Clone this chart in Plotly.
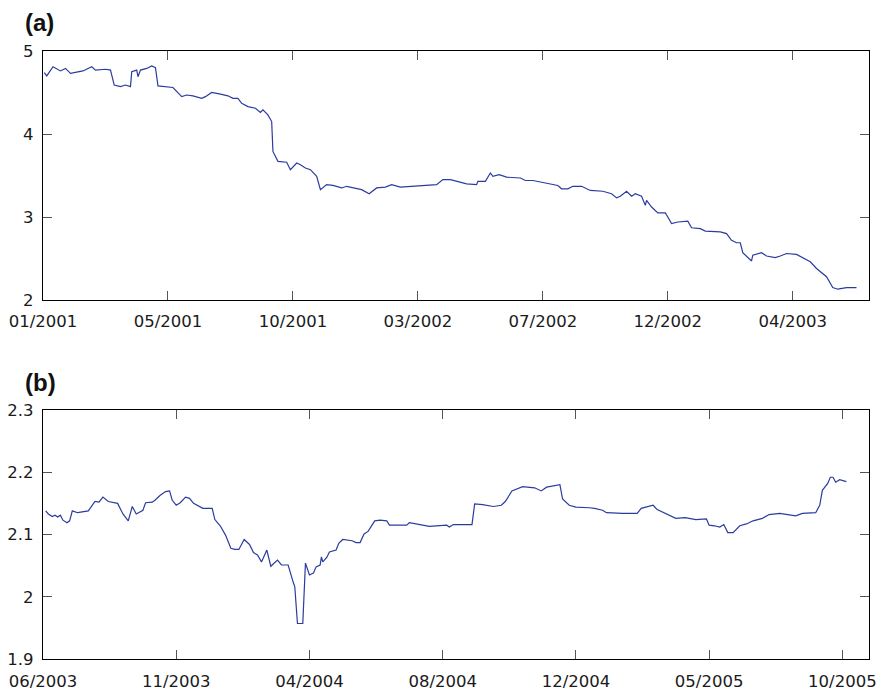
import plotly.graph_objects as go

# ---------------- data: panel (a) ----------------
a_index = [1, 3, 8, 14, 18, 22, 32, 39, 42, 50, 54, 57, 62, 66, 70, 71, 75, 76, 78, 83,
           87, 90, 92, 99, 104, 111, 115, 120, 127, 130, 135, 142, 148, 152, 156, 159, 164,
           170, 174, 176, 180, 183, 184, 188, 195, 198, 203, 206, 210, 214, 219, 222, 227,
           232, 239, 243, 255, 261, 267, 274, 279, 286, 299, 315, 320, 326, 339, 347, 348,
           354, 358, 360, 365, 371, 382, 386, 392, 403, 412, 415, 420, 424, 431, 438, 448,
           455, 459, 462, 467, 471, 474, 479, 482, 483, 487, 492, 498, 500, 503, 508, 516,
           519, 526, 530, 542, 547, 551, 555, 558, 560, 564, 567, 568, 575, 579, 586, 590,
           595, 603, 608, 614, 619, 627, 632, 636, 643, 651]
a_value = [4.74, 4.70, 4.81, 4.76, 4.79, 4.73, 4.76, 4.81, 4.77, 4.78, 4.77, 4.59, 4.57, 4.59,
           4.57, 4.75, 4.77, 4.69, 4.77, 4.79, 4.82, 4.80, 4.58, 4.57, 4.56, 4.45, 4.47, 4.46,
           4.43, 4.45, 4.50, 4.48, 4.46, 4.43, 4.43, 4.37, 4.33, 4.31, 4.26, 4.29, 4.23, 4.15,
           3.79, 3.67, 3.66, 3.57, 3.65, 3.63, 3.59, 3.57, 3.49, 3.33, 3.39, 3.38, 3.35, 3.37,
           3.33, 3.28, 3.35, 3.36, 3.39, 3.36, 3.37, 3.39, 3.45, 3.45, 3.40, 3.39, 3.43, 3.43,
           3.53, 3.49, 3.51, 3.48, 3.47, 3.44, 3.44, 3.41, 3.38, 3.34, 3.34, 3.37, 3.37, 3.32,
           3.31, 3.28, 3.23, 3.25, 3.31, 3.25, 3.28, 3.25, 3.14, 3.20, 3.12, 3.05, 3.05, 3.00,
           2.92, 2.94, 2.95, 2.87, 2.86, 2.83, 2.82, 2.80, 2.72, 2.69, 2.69, 2.57, 2.51, 2.47,
           2.54, 2.57, 2.53, 2.51, 2.53, 2.56, 2.55, 2.51, 2.46, 2.38, 2.28, 2.15, 2.13, 2.15,
           2.15]
a_tick_pos = [0, 100, 200, 300, 400, 500, 600]
a_tick_text = ["01/2001", "05/2001", "10/2001", "03/2002", "07/2002", "12/2002", "04/2003"]
a_y_ticks = [2, 3, 4, 5]
a_y_text = ["2", "3", "4", "5"]

# ---------------- data: panel (b) ----------------
b_index = [2, 4, 7, 9, 11, 13, 15, 18, 20, 22, 26, 34, 39, 42, 45, 49, 56, 60, 64, 67, 70,
           75, 77, 82, 84, 88, 92, 95, 97, 100, 103, 107, 110, 113, 120, 127, 129, 133, 137,
           141, 144, 147, 151, 155, 158, 161, 164, 167, 168, 171, 174, 176, 179, 184, 188,
           189, 191, 195, 197, 200, 203, 205, 208, 209, 210, 213, 215, 220, 222, 225, 232,
           235, 238, 241, 244, 249, 253, 258, 260, 273, 275, 285, 290, 303, 305, 308, 322,
           324, 330, 338, 344, 347, 352, 360, 369, 374, 378, 388, 390, 395, 400, 410, 414,
           420, 423, 435, 446, 449, 458, 461, 468, 475, 482, 490, 498, 500, 504, 508, 511,
           514, 518, 523, 528, 533, 540, 545, 553, 560, 565, 570, 580, 583, 585, 589, 591,
           593, 595, 598, 603]
b_value = [2.138, 2.133, 2.129, 2.131, 2.128, 2.131, 2.123, 2.119, 2.122, 2.138, 2.135, 2.138,
           2.153, 2.152, 2.160, 2.153, 2.150, 2.133, 2.122, 2.145, 2.133, 2.139, 2.151, 2.152,
           2.155, 2.163, 2.169, 2.170, 2.155, 2.147, 2.151, 2.160, 2.158, 2.150, 2.142, 2.142,
           2.124, 2.114, 2.099, 2.078, 2.076, 2.076, 2.092, 2.084, 2.071, 2.067, 2.056, 2.070,
           2.075, 2.049, 2.056, 2.059, 2.051, 2.051, 2.022, 2.016, 1.957, 1.957, 2.054, 2.035,
           2.038, 2.048, 2.051, 2.064, 2.056, 2.063, 2.072, 2.075, 2.086, 2.092, 2.090, 2.087,
           2.087, 2.101, 2.105, 2.122, 2.123, 2.122, 2.115, 2.115, 2.119, 2.115, 2.113, 2.115,
           2.112, 2.116, 2.116, 2.149, 2.148, 2.145, 2.147, 2.153, 2.170, 2.177, 2.175, 2.170,
           2.176, 2.180, 2.157, 2.147, 2.144, 2.143, 2.142, 2.139, 2.135, 2.134, 2.134, 2.142,
           2.147, 2.140, 2.133, 2.126, 2.127, 2.124, 2.125, 2.115, 2.114, 2.112, 2.116, 2.103,
           2.103, 2.114, 2.117, 2.122, 2.126, 2.132, 2.134, 2.132, 2.130, 2.134, 2.135, 2.147,
           2.171, 2.182, 2.192, 2.192, 2.184, 2.188, 2.185]
b_tick_pos = [0, 100, 200, 300, 400, 500, 600]
b_tick_text = ["06/2003", "11/2003", "04/2004", "08/2004", "12/2004", "05/2005", "10/2005"]
b_y_ticks = [1.9, 2.0, 2.1, 2.2, 2.3]
b_y_text = ["1.9", "2", "2.1", "2.2", "2.3"]

# ---------------- figure ----------------
W, H = 884, 697
LINE = "#2b3c9e"
FONT = dict(family="DejaVu Sans, Liberation Sans, Arial", size=16.5, color="#1a1a1a")
LABEL_FONT = dict(family="Liberation Sans, Arial", size=24, color="#111111")

fig = go.Figure()
fig.add_trace(go.Scatter(x=a_index, y=a_value, mode="lines",
                         line=dict(color=LINE, width=1.2), xaxis="x", yaxis="y",
                         showlegend=False, hoverinfo="skip"))
fig.add_trace(go.Scatter(x=b_index, y=b_value, mode="lines",
                         line=dict(color=LINE, width=1.2), xaxis="x2", yaxis="y2",
                         showlegend=False, hoverinfo="skip"))

axis_common = dict(showline=True, linecolor="black", linewidth=1.3, mirror="ticks",
                   ticks="inside", ticklen=9, tickwidth=1.3, tickcolor="#555555",
                   showgrid=False, zeroline=False, tickfont=FONT, automargin=False)

left_px, right_px = 43, 869
fig.update_layout(
    width=W, height=H,
    margin=dict(l=0, r=0, t=0, b=0),
    paper_bgcolor="white", plot_bgcolor="white",
    xaxis=dict(domain=[left_px / W, right_px / W], range=[0, 661], anchor="y",
               tickvals=a_tick_pos, ticktext=a_tick_text, ticklabelstandoff=6, **axis_common),
    yaxis=dict(domain=[(H - 300) / H, (H - 51) / H], range=[2, 5], anchor="x",
               tickvals=a_y_ticks, ticktext=a_y_text, ticklabelstandoff=5, **axis_common),
    xaxis2=dict(domain=[left_px / W, right_px / W], range=[0, 620], anchor="y2",
                tickvals=b_tick_pos, ticktext=b_tick_text, ticklabelstandoff=7, **axis_common),
    yaxis2=dict(domain=[(H - 659) / H, (H - 410) / H], range=[1.9, 2.3], anchor="x2",
                tickvals=b_y_ticks, ticktext=b_y_text, ticklabelstandoff=5, **axis_common),
    annotations=[
        dict(text="<b>(a)</b>", x=23 / W, y=1 - 22 / H, xref="paper", yref="paper",
             xanchor="left", yanchor="middle", showarrow=False, font=LABEL_FONT),
        dict(text="<b>(b)</b>", x=23 / W, y=1 - 382 / H, xref="paper", yref="paper",
             xanchor="left", yanchor="middle", showarrow=False, font=LABEL_FONT),
    ],
)

fig.write_html("out.html")
